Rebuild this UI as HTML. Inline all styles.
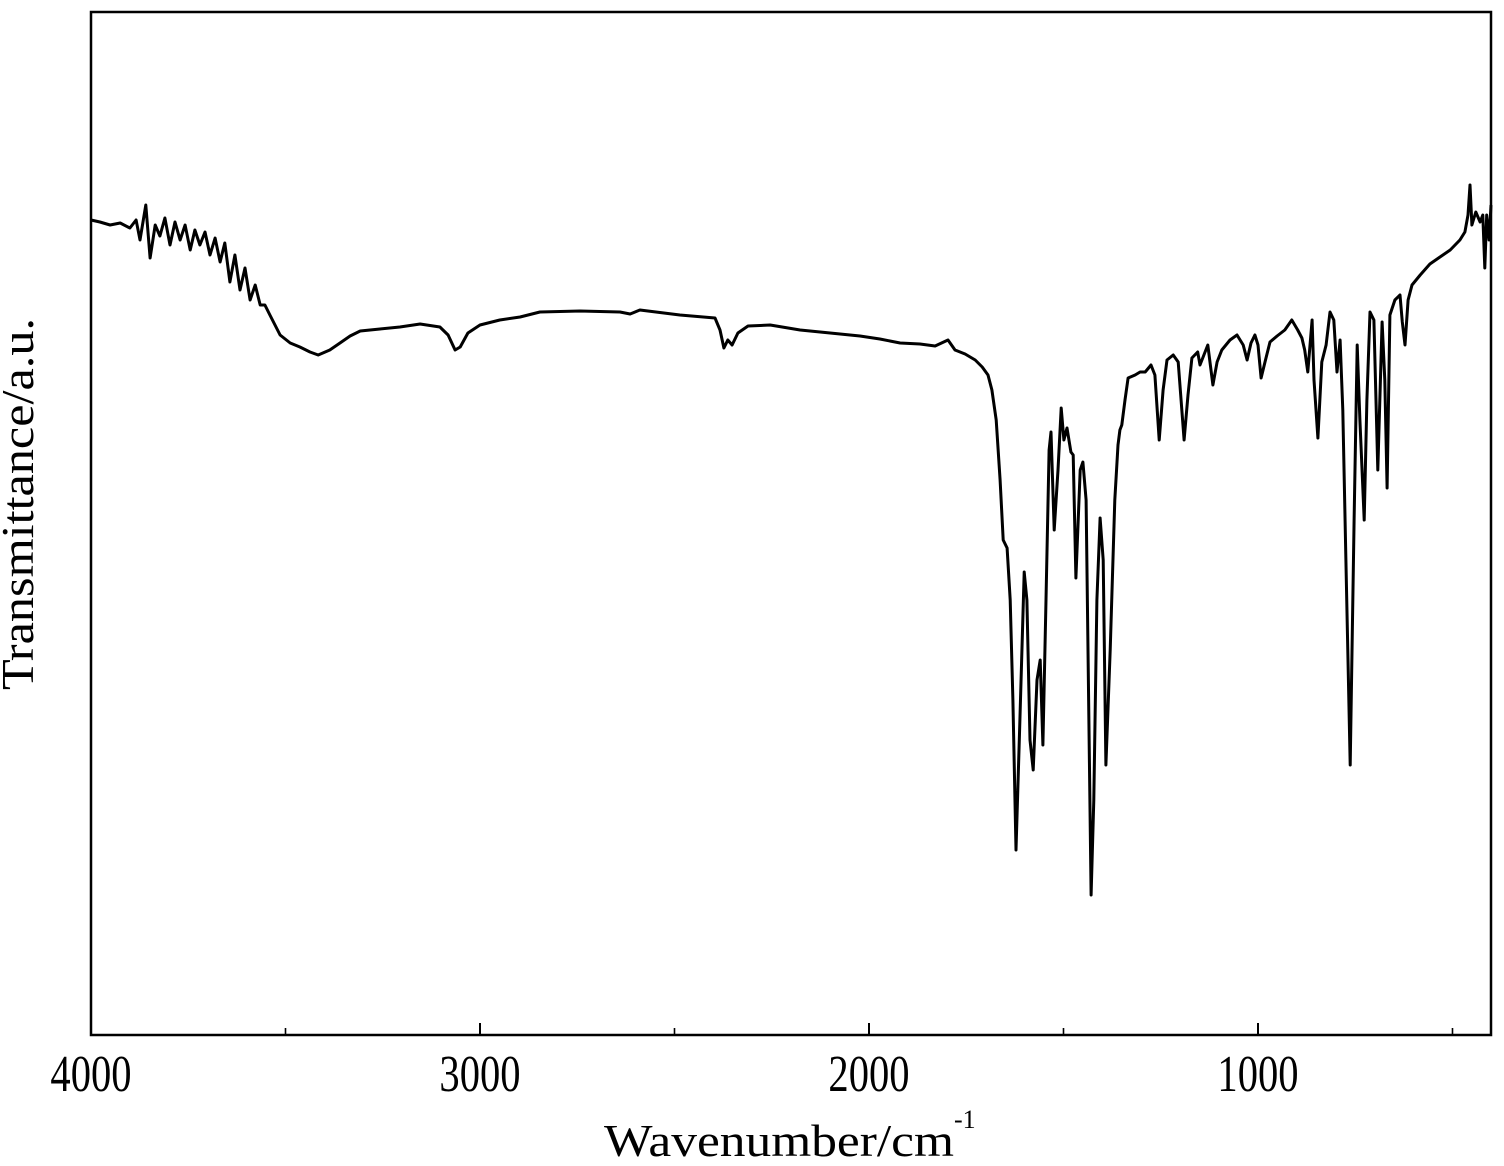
<!DOCTYPE html>
<html><head><meta charset="utf-8"><style>
html,body{margin:0;padding:0;background:#fff;}
svg{display:block;}
text{font-family:"Liberation Serif",serif;fill:#000;}
</style></head><body>
<svg id="chart" width="1504" height="1166" viewBox="0 0 1504 1166">
<rect x="0" y="0" width="1504" height="1166" fill="#fff"/>
<g id="plot"></g>
<g id="axes"></g>
<text x="33" y="504" font-size="46" text-anchor="middle" textLength="372" lengthAdjust="spacingAndGlyphs" transform="rotate(-90 33 504)">Transmittance/a.u.</text>
<text x="604" y="1156" font-size="46"><tspan textLength="350" lengthAdjust="spacingAndGlyphs">Wavenumber/cm</tspan><tspan dy="-28" font-size="26">-1</tspan></text>
</svg>
<script>
const wavenumbers = [4000,3977,3951,3925,3900,3884,3874,3859,3848,3835,3823,3810,3797,3784,3771,3758,3745,3733,3720,3707,3694,3681,3668,3656,3643,3630,3617,3604,3591,3578,3565,3553,3540,3514,3488,3463,3437,3416,3386,3360,3334,3308,3257,3206,3154,3103,3082,3064,3051,3031,3000,2949,2897,2846,2743,2640,2614,2589,2486,2396,2383,2373,2363,2352,2337,2311,2254,2177,2100,2023,1972,1920,1869,1830,1797,1779,1753,1727,1709,1694,1684,1673,1663,1655,1645,1637,1630,1622,1612,1601,1594,1586,1578,1568,1560,1553,1545,1537,1532,1524,1514,1506,1499,1491,1481,1475,1468,1457,1450,1442,1437,1429,1422,1414,1406,1398,1391,1380,1368,1360,1355,1350,1342,1334,1316,1303,1290,1275,1265,1254,1244,1234,1218,1205,1190,1180,1170,1155,1149,1139,1129,1116,1105,1093,1072,1054,1038,1028,1018,1008,1000,992,982,969,951,931,913,898,887,880,872,861,856,846,836,825,815,805,797,789,782,774,763,753,745,738,727,720,712,702,692,681,674,668,661,648,635,629,622,614,604,583,558,532,506,481,468,460,455,450,440,429,422,417,412,406,401];
const transmittance = [815,813,810,812,807,815,795,830,777,810,799,817,790,813,795,810,785,805,790,803,780,797,773,792,753,780,745,767,735,750,730,730,720,700,692,688,683,680,685,692,699,704,706,708,711,708,700,685,688,702,710,715,718,723,724,723,721,725,720,717,705,687,695,690,702,709,710,705,702,699,696,692,691,689,695,685,681,675,668,660,645,615,555,495,487,435,335,185,315,463,435,295,265,355,375,290,435,585,603,505,565,627,595,607,583,580,457,565,573,535,385,140,235,435,517,475,270,385,535,590,605,610,635,657,660,663,663,670,660,595,645,675,680,673,595,640,677,683,670,680,690,650,673,685,695,700,690,675,692,700,690,657,673,693,699,705,715,705,697,685,663,715,655,597,673,690,723,715,663,695,625,475,270,515,690,615,515,635,723,715,565,713,655,547,720,735,740,713,690,735,750,760,771,778,785,795,803,820,850,810,823,813,820,767,820,795,830];
const xTicksMajor = [4000,3000,2000,1000];
const xTicksMinor = [3500,2500,1500,500];
const xMin = 4000, xMax = 401;
const L = 91, R = 1491, T = 12, B = 1035;
const yMin = 0, yMax = 1023;
function xs(w){ return L + (xMin - w) / (xMin - xMax) * (R - L); }
function ys(v){ return B - (v - yMin) / (yMax - yMin) * (B - T); }
const NS = "http://www.w3.org/2000/svg";
const plot = document.getElementById('plot');
const axes = document.getElementById('axes');
let d = "";
for (let i = 0; i < wavenumbers.length; i++) {
  d += (i ? "L" : "M") + xs(wavenumbers[i]).toFixed(1) + "," + ys(transmittance[i]).toFixed(1);
}
const path = document.createElementNS(NS, 'path');
path.setAttribute('d', d);
path.setAttribute('fill', 'none');
path.setAttribute('stroke', '#000');
path.setAttribute('stroke-width', '3');
path.setAttribute('stroke-linejoin', 'round');


plot.appendChild(path);
const frame = document.createElementNS(NS, 'rect');
frame.setAttribute('x', L); frame.setAttribute('y', T);
frame.setAttribute('width', R - L); frame.setAttribute('height', B - T);
frame.setAttribute('fill', 'none'); frame.setAttribute('stroke', '#000'); frame.setAttribute('stroke-width', '2.5');


axes.appendChild(frame);
xTicksMajor.forEach(function(w){
  const x = xs(w);
  const t = document.createElementNS(NS, 'line');
  t.setAttribute('x1', x); t.setAttribute('x2', x); t.setAttribute('y1', B); t.setAttribute('y2', B - 12);
  t.setAttribute('stroke', '#000'); t.setAttribute('stroke-width', '2');
  
  
  axes.appendChild(t);
  const lb = document.createElementNS(NS, 'text');
  lb.setAttribute('x', x); lb.setAttribute('y', 1091);
  lb.setAttribute('font-size', '52'); lb.setAttribute('text-anchor', 'middle');
  lb.setAttribute('transform', 'translate(' + x + ',0) scale(0.78,1) translate(' + (-x) + ',0)');
  lb.textContent = String(w);
  
  
  axes.appendChild(lb);
});
xTicksMinor.forEach(function(w){
  const x = xs(w);
  const t = document.createElementNS(NS, 'line');
  t.setAttribute('x1', x); t.setAttribute('x2', x); t.setAttribute('y1', B); t.setAttribute('y2', B - 7);
  t.setAttribute('stroke', '#000'); t.setAttribute('stroke-width', '1.6');
  
  
  axes.appendChild(t);
});
</script>
</body></html>
